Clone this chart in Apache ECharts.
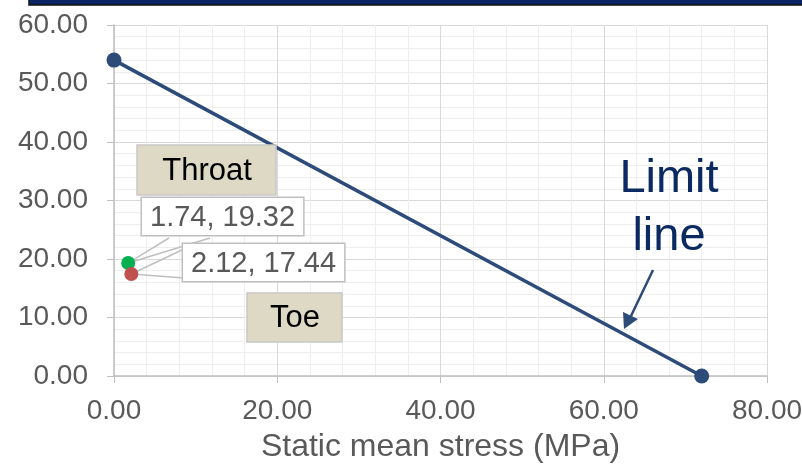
<!DOCTYPE html>
<html>
<head>
<meta charset="utf-8">
<script src="https://cdn.jsdelivr.net/npm/echarts@6/dist/echarts.min.js"></script>
<style>
  html, body { margin: 0; padding: 0; background: #fff; }
  #echarts { width: 802px; height: 465px; }
</style>
</head>
<body>
<div id="echarts"></div>
<script>
    // data
    var limitLine = [[0, 54], [72, 0]]
    var throatPoint = [[1.74, 19.32]]
    var toePoint = [[2.12, 17.44]]
    var xTicks = [0, 80, 20]   // min, max, step
    var yTicks = [0, 60, 10]

    var font = 'Liberation Sans, Arial, sans-serif'
    var grey = '#595959'

    var chart = echarts.init(document.getElementById('echarts'))

    var valLabel = function (p) {
        return p.value[0].toFixed(2) + ', ' + p.value[1].toFixed(2)
    }

    var boxLabel = {
        show: true,
        formatter: valLabel,
        color: grey, fontSize: 29, fontFamily: font,
        backgroundColor: '#fff',
        borderColor: '#bfbfbf', borderWidth: 1.5,
        padding: [5, 8, 3, 8]
    }

    var axisCommon = {
        type: 'value',
        minorTick: { show: false, splitNumber: 5 },
        minorSplitLine: { show: true, lineStyle: { color: '#eeeeee', width: 1 } },
        splitLine: { show: true, lineStyle: { color: '#d9d9d9', width: 1 } },
        axisLine: { show: true, onZero: false, lineStyle: { color: '#bfbfbf', width: 1.5 } },
        axisTick: { show: true, length: 7, lineStyle: { color: '#bfbfbf' } }
    }

    var option = {
        animation: false,
        grid: { left: 114, right: 35, top: 25, bottom: 89, outerBoundsMode: 'none', containLabel: false },
        xAxis: Object.assign({}, axisCommon, {
            min: xTicks[0], max: xTicks[1], interval: xTicks[2],
            axisLabel: {
                margin: 21, color: grey, fontSize: 28, fontFamily: font,
                formatter: function (v) { return v.toFixed(2) }
            },
            name: 'Static mean stress (MPa)',
            nameLocation: 'middle',
            nameGap: 55,
            nameTextStyle: { color: grey, fontSize: 32, fontFamily: font }
        }),
        yAxis: Object.assign({}, axisCommon, {
            min: yTicks[0], max: yTicks[1], interval: yTicks[2],
            axisLabel: {
                margin: 26, color: grey, fontSize: 28, fontFamily: font,
                formatter: function (v) { return v.toFixed(2) }
            }
        }),
        series: [
            {
                name: 'Limit line',
                type: 'line',
                data: limitLine,
                symbol: 'circle',
                symbolSize: 15,
                lineStyle: { color: '#2c4b79', width: 3.5 },
                itemStyle: { color: '#2c4b79' },
                z: 3
            },
            {
                name: 'Throat',
                type: 'scatter',
                data: throatPoint,
                symbolSize: 14,
                itemStyle: { color: '#00b050', opacity: 1 },
                z: 6,
                label: boxLabel,
                labelLayout: { x: 142, y: 198, align: 'left', verticalAlign: 'top' }
            },
            {
                name: 'Toe',
                type: 'scatter',
                data: toePoint,
                symbolSize: 14,
                itemStyle: { color: '#c0504d', opacity: 1 },
                z: 6,
                label: boxLabel,
                labelLayout: { x: 183, y: 244, align: 'left', verticalAlign: 'top' }
            }
        ],
        graphic: [
            // dark banner cut off at the top
            {
                id: 'banner', type: 'rect', shape: { x: 29, y: -3, width: 780, height: 8 },
                style: { fill: '#0b2463', stroke: '#111', lineWidth: 1.5 }, z: 10
            },
            {
                id: 'throatBox', type: 'rect', shape: { x: 137, y: 145, width: 139, height: 50 },
                style: { fill: '#ddd9c4', stroke: '#c8c8c8', lineWidth: 1.5 }, z: 10
            },
            {
                id: 'throatText', type: 'text', x: 207, y: 171,
                style: { text: 'Throat', fill: '#000', font: '31px ' + font, textAlign: 'center', textVerticalAlign: 'middle' }, z: 11
            },
            {
                id: 'toeBox', type: 'rect', shape: { x: 247, y: 293, width: 95, height: 49 },
                style: { fill: '#ddd9c4', stroke: '#c8c8c8', lineWidth: 1.5 }, z: 10
            },
            {
                id: 'toeText', type: 'text', x: 295, y: 318,
                style: { text: 'Toe', fill: '#000', font: '31px ' + font, textAlign: 'center', textVerticalAlign: 'middle' }, z: 11
            },
            {
                id: 'limitText', type: 'text', x: 669, y: 208,
                style: { text: 'Limit\nline', fill: '#0b2a62', font: '47px ' + font, lineHeight: 58, textAlign: 'center', textVerticalAlign: 'middle' }, z: 11
            },
            {
                id: 'arrowShaft', type: 'line', shape: { x1: 653, y1: 270, x2: 631, y2: 316 },
                style: { stroke: '#2c4b79', lineWidth: 2.5 }, z: 11
            },
            {
                id: 'arrowHead', type: 'polygon', shape: { points: [[624, 329], [623, 312], [638, 319]] },
                style: { fill: '#2c4b79' }, z: 11
            }
        ]
    }

    chart.setOption(option)

    // callout wedges from each point to its value box
    var thr = chart.convertToPixel({ gridIndex: 0 }, throatPoint[0])
    var toe = chart.convertToPixel({ gridIndex: 0 }, toePoint[0])
    var wedge = { stroke: '#bfbfbf', lineWidth: 1.5, fill: 'none' }
    chart.setOption({
        graphic: [
            { id: 'throatWedge', type: 'polyline', shape: { points: [[169, 238], thr, [210, 238]] }, style: wedge, z: 1 },
            { id: 'toeWedge', type: 'polyline', shape: { points: [[184, 249], toe, [184, 278]] }, style: wedge, z: 1 }
        ]
    })
</script>
</body>
</html>
